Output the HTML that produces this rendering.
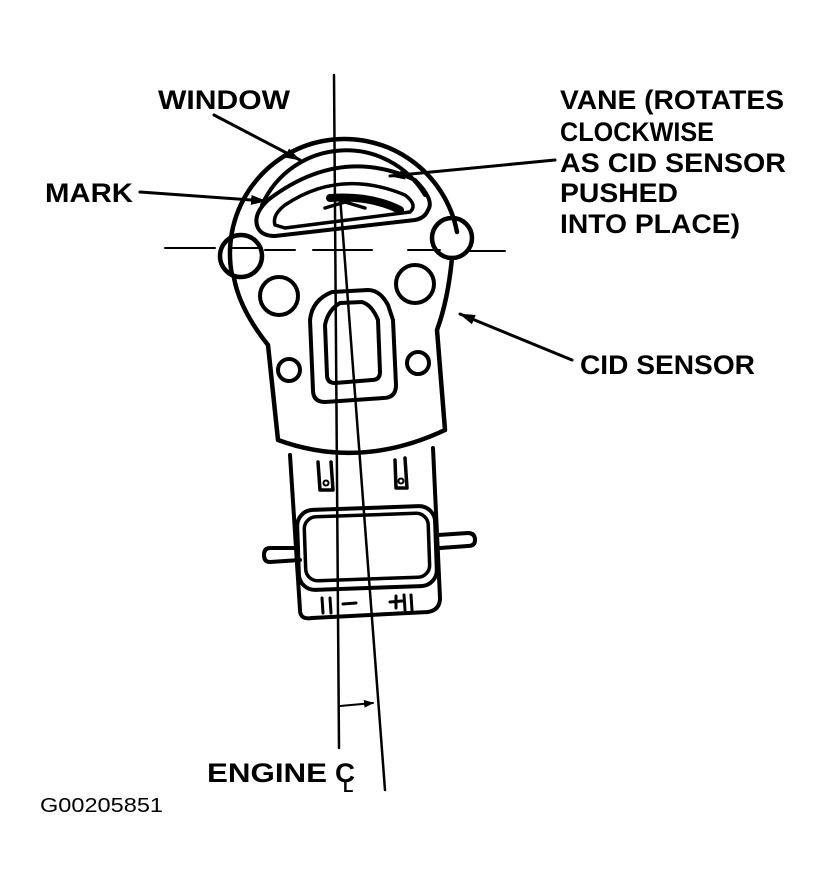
<!DOCTYPE html>
<html><head><style>html,body{margin:0;padding:0;background:#fff}svg{display:block}</style></head>
<body>
<svg width="823" height="891" viewBox="0 0 823 891" xmlns="http://www.w3.org/2000/svg">
<defs><marker id="a" markerWidth="10" markerHeight="8" refX="9" refY="4" orient="auto" markerUnits="userSpaceOnUse"><path d="M0,0 L10,4 L0,8 Z" fill="#000"/></marker>
<marker id="b" markerWidth="16" markerHeight="10" refX="15" refY="5" orient="auto" markerUnits="userSpaceOnUse"><path d="M0,0 L16,5 L0,10 Z" fill="#000"/></marker></defs>
<g fill="none" stroke="#000" stroke-width="4.5" stroke-linejoin="round" stroke-linecap="round">
<path d="M232,275 A113,113 0 0 1 457,232 M452,258 Q448,300 437,330 L445,430 Q360,470 278,440 L268,345 Q240,310 234,278"/>
<path d="M262,205 A92,92 0 0 1 425,195" stroke-width="4"/>
<path d="M258,228 Q252,215 268,200 Q340,145 415,180 Q435,200 428,210 Q425,218 415,220 L275,236 Q262,236 258,228 Z" stroke-width="4"/>
<path d="M275,225 Q272,215 285,205 Q340,168 405,195 Q418,205 410,212 L285,228 Z" stroke-width="3.5"/>
<path d="M330,198 Q370,195 400,210" stroke-width="8"/>
<path d="M325,208 L345,202 L365,208" stroke-width="3.5"/>
<circle cx="241" cy="256" r="21"/>
<circle cx="452" cy="238" r="20"/>
<circle cx="279" cy="296" r="19" stroke-width="4"/>
<circle cx="415" cy="284" r="19" stroke-width="4"/>
<circle cx="289" cy="370" r="11" stroke-width="4"/>
<circle cx="418" cy="363" r="11" stroke-width="4"/>
<path d="M332,292 L368,290 Q380,290 388,305 L393,320 L396,385 Q396,398 383,398 L325,402 Q313,402 313,390 L310,320 Q312,300 332,292 Z" stroke-width="4"/>
<path d="M340,303 L362,302 Q372,305 378,320 L380,372 Q380,380 372,380 L335,383 Q327,383 327,375 L325,325 Q328,310 340,303 Z" stroke-width="4"/>
<path d="M165,248 L215,248 M230,248 L262,248 M265,250 L295,250 M313,250 L372,250 M408,250 L440,250 M470,251 L505,251" stroke-width="2"/>
<path d="M290,455 L300,610 Q300,620 312,618 L428,612 Q440,610 440,598 L433,448" stroke-width="4"/>
<path d="M318,462 L320,490 L333,490 L331,462 M395,460 L396,488 L407,488 L405,458" stroke-width="3.5"/>
<circle cx="326" cy="483" r="2.5" stroke-width="2"/><circle cx="401" cy="481" r="2.5" stroke-width="2"/>
<rect x="298" y="508" width="138" height="80" rx="16" stroke-width="4" transform="rotate(-2 367 548)"/>
<rect x="305" y="515" width="124" height="64" rx="12" stroke-width="3.5" transform="rotate(-2 367 548)"/>
<path d="M298,548 L270,548 Q264,548 264,555 Q264,562 270,562 L300,560" stroke-width="4"/>
<path d="M438,535 L468,533 Q475,533 475,540 Q475,546 468,546 L440,548" stroke-width="4"/>
<path d="M322,598 L323,613 M330,598 L331,613 M404,595 L405,610 M411,595 L412,610" stroke-width="3"/>
<path d="M343,604 L356,603 M390,602 L402,601 M396,596 L396,608" stroke-width="3"/>
<path d="M334,75 L339,748" stroke-width="2.5"/>
<path d="M340,196 L385,790" stroke-width="2.5"/>
<path d="M340,706 L373,703" stroke-width="2" marker-end="url(#a)"/>
<path d="M214,115 L300,160" stroke-width="3" marker-end="url(#b)"/>
<path d="M140,192 L266,201" stroke-width="3" marker-end="url(#b)"/>
<path d="M555,160 L390,176" stroke-width="3" marker-end="url(#b)"/>
<path d="M572,360 L460,314" stroke-width="3" marker-end="url(#b)"/>
</g>
<g font-family="Liberation Sans, sans-serif" font-weight="bold" font-size="27" fill="#000">
<text x="158" y="109" textLength="132" lengthAdjust="spacingAndGlyphs">WINDOW</text>
<text x="45" y="202" textLength="88" lengthAdjust="spacingAndGlyphs">MARK</text>
<text x="560" y="109" textLength="224" lengthAdjust="spacingAndGlyphs">VANE (ROTATES</text>
<text x="560" y="141" textLength="154" lengthAdjust="spacingAndGlyphs">CLOCKWISE</text>
<text x="560" y="172" textLength="226" lengthAdjust="spacingAndGlyphs">AS CID SENSOR</text>
<text x="560" y="202" textLength="118" lengthAdjust="spacingAndGlyphs">PUSHED</text>
<text x="560" y="233" textLength="180" lengthAdjust="spacingAndGlyphs">INTO PLACE)</text>
<text x="580" y="374" textLength="175" lengthAdjust="spacingAndGlyphs">CID SENSOR</text>
<text x="207" y="782" textLength="120" lengthAdjust="spacingAndGlyphs">ENGINE</text>
<text x="335" y="782" textLength="20" lengthAdjust="spacingAndGlyphs">C</text>
<text x="343" y="792" font-size="17">L</text>
</g>
<text x="40" y="812" font-family="Liberation Sans, sans-serif" font-size="20" textLength="123" lengthAdjust="spacingAndGlyphs">G00205851</text>
</svg>
</body></html>
